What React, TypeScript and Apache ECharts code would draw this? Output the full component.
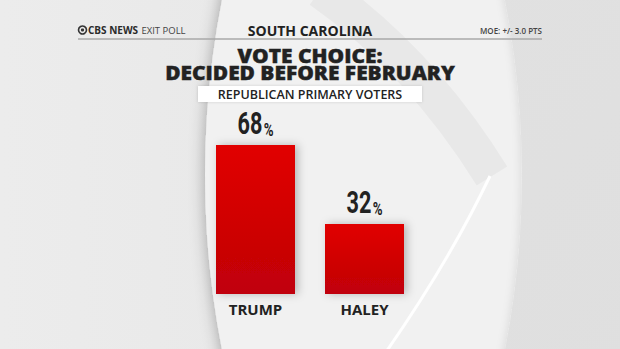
import React, { useEffect, useRef } from "react";
import * as echarts from "echarts";

const categories = ["TRUMP", "HALEY"];
const values = [68, 32];
const headerTitle = "SOUTH CAROLINA";
const titleLines = ["VOTE CHOICE:", "DECIDED BEFORE FEBRUARY"];
const subtitle = "REPUBLICAN PRIMARY VOTERS";
const moe = "MOE: +/- 3.0 PTS";

const HEAD = "'Open Sans', 'Lato', 'DejaVu Sans', sans-serif";
const NUM = "'Roboto', 'Open Sans', 'DejaVu Sans', sans-serif";

export default function App() {
  const ref = useRef<HTMLDivElement>(null);
  useEffect(() => {
    if (!ref.current) return;
    const chart = echarts.init(ref.current, null, { renderer: "svg" });
    const decor: any[] = [
      {
        type: "circle", silent: true, z: -10,
        shape: { cx: 1114, cy: 175, r: 909 },
        style: { fill: "#f1f1f1", shadowBlur: 16, shadowColor: "rgba(0,0,0,0.32)" },
      },
      {
        type: "bezierCurve", silent: true, z: -9,
        shape: { x1: 320, y1: -10, cpx1: 420, cpy1: 60, x2: 492, y2: 176 },
        style: { stroke: "rgba(0,0,0,0.035)", lineWidth: 36, fill: "none" },
      },
      {
        type: "ring", silent: true, z: -8,
        shape: { cx: -387, cy: 175, r0: 909, r: 1400 },
        style: {
          fill: {
            type: "linear", x: 0, y: 0, x2: 1, y2: 1,
            colorStops: [
              { offset: 0, color: "#ececec" },
              { offset: 1, color: "#dadada" },
            ],
          },
          shadowBlur: 10, shadowColor: "rgba(0,0,0,0.12)",
        },
      },
      {
        type: "bezierCurve", silent: true, z: -7,
        shape: { x1: 490, y1: 176, cpx1: 450, cpy1: 260, x2: 386, y2: 352 },
        style: { stroke: "#ffffff", lineWidth: 3, fill: "none" },
      },
    ];
    const fixed: any[] = [
      {
        type: "line", shape: { x1: 78, y1: 39, x2: 542, y2: 39 },
        style: { stroke: "#a8a8a8", lineWidth: 1.5 },
      },
      {
        type: "circle", shape: { cx: 82.5, cy: 30, r: 4 },
        style: { fill: "none", stroke: "#333", lineWidth: 1.6 },
      },
      {
        type: "circle", shape: { cx: 82.5, cy: 30, r: 1.6 },
        style: { fill: "#333" },
      },
      {
        type: "text", x: 88, y: 30,
        style: {
          text: "{b|CBS NEWS} {l|EXIT POLL}",
          verticalAlign: "middle",
          rich: {
            b: { fontFamily: HEAD, fontWeight: "bold", fontSize: 10, fill: "#2a2a2a" },
            l: { fontFamily: HEAD, fontWeight: "normal", fontSize: 9.5, fill: "#444" },
          },
        },
      },
      {
        type: "text", x: 542, y: 30,
        style: { text: moe, align: "right", verticalAlign: "middle", fontFamily: HEAD, fontSize: 8, fill: "#444", fontWeight: 600 },
      },
      {
        type: "text", x: 310, y: 30,
        style: { text: headerTitle, align: "center", verticalAlign: "middle", fontFamily: HEAD, fontWeight: "bold", fontSize: 14, fill: "#222" },
      },
      {
        type: "text", x: 310, y: 64, scaleX: 1.1,
        style: {
          text: titleLines.join("\n"), align: "center", verticalAlign: "middle",
          fontFamily: HEAD, fontWeight: 800, fontSize: 19, lineHeight: 17, fill: "#222",
          stroke: "#222", lineWidth: 0.4,
        },
      },
      {
        type: "rect", shape: { x: 198, y: 86, width: 224, height: 16 },
        style: { fill: "#ffffff", shadowBlur: 3, shadowColor: "rgba(0,0,0,0.15)" },
      },
      {
        type: "text", x: 310, y: 94.5,
        style: { text: subtitle, align: "center", verticalAlign: "middle", fontFamily: HEAD, fontWeight: 600, fontSize: 12.5, fill: "#222" },
      },
    ];
    const option: any = {
      animation: false,
      backgroundColor: {
        type: "linear", x: 0, y: 0, x2: 1, y2: 0,
        colorStops: [
          { offset: 0, color: "#ececec" },
          { offset: 1, color: "#e4e4e4" },
        ],
      },
      graphic: [...decor, ...fixed],
      grid: { left: 201, right: 201, top: 75, bottom: 55 },
      xAxis: {
        type: "category",
        data: categories,
        axisLine: { show: false },
        axisTick: { show: false },
        axisLabel: { margin: 7, fontFamily: HEAD, fontWeight: "bold", fontSize: 15, color: "#222" },
      },
      yAxis: { type: "value", min: 0, max: 100, show: false, splitLine: { show: false } },
      series: [
        {
          type: "bar",
          data: values,
          barWidth: 79,
          itemStyle: {
            color: {
              type: "linear", x: 0, y: 0, x2: 0, y2: 1,
              colorStops: [
                { offset: 0, color: "#e10000" },
                { offset: 1, color: "#c00008" },
              ],
            },
            shadowBlur: 8,
            shadowColor: "rgba(0,0,0,0.25)",
            shadowOffsetX: 3,
          },
        },
      ],
    };
    chart.setOption(option);
    // value labels, placed through the chart's own scales, drawn condensed
    const labels = values.map((v, i) => {
      const pt = chart.convertToPixel({ seriesIndex: 0 }, [i, v]) as number[];
      return {
        type: "text",
        x: pt[0],
        y: pt[1] - 6,
        scaleX: 0.7,
        style: {
          text: `{n|${v}}{p|%}`,
          align: "center",
          verticalAlign: "bottom",
          rich: {
            n: { fontFamily: NUM, fontWeight: "bold", fontSize: 31, fill: "#222", verticalAlign: "bottom", lineHeight: 26 },
            p: { fontFamily: NUM, fontWeight: "bold", fontSize: 19, fill: "#222", verticalAlign: "bottom", lineHeight: 26, padding: [0, 0, 0, 2] },
          },
        },
      };
    });
    chart.setOption({ graphic: [...decor, ...fixed, ...labels] } as any);
    return () => chart.dispose();
  }, []);
  return <div ref={ref} style={{ position: "fixed", left: 0, top: 0, width: 620, height: 349 }} />;
}
